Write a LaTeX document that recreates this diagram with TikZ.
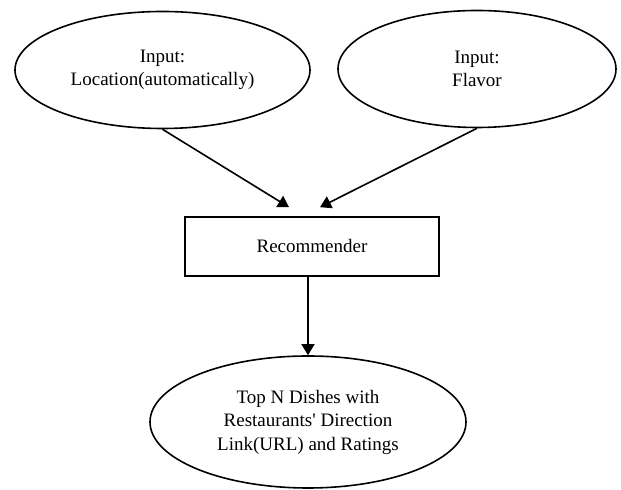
\documentclass[tikz,border=0pt]{standalone}
\usepackage{fontspec}
\setmainfont{Liberation Serif}
\usetikzlibrary{shapes.geometric}
\usetikzlibrary{arrows.meta}
\newcommand{\locwd}{147.5pt}
\newcommand{\flavwd}{139pt}
\newcommand{\inpht}{58.5pt}
\newcommand{\recwd}{127pt}
\newcommand{\recht}{29.5pt}
\newcommand{\reswd}{158pt}
\newcommand{\resht}{66pt}
\newcommand{\tipgap}{-9}

\begin{document}
\begin{tikzpicture}[x=0.5pt,y=-0.5pt,
    font=\fontsize{9.5}{11.75}\selectfont,
    line width=0.8pt,
    oval/.style={draw,ellipse,inner sep=0pt,align=center},
    box/.style={draw,rectangle,inner sep=0pt,align=center},
    flow/.style={-{Triangle[length=5.5pt,width=6.5pt]}}]
    \useasboundingbox (0,0) rectangle (621,490);
    % inputs
    \node[oval,minimum width=\locwd,minimum height=\inpht] (loc)
      at (162.5,70) {Input:\\Location(automatically)};
    \node[oval,minimum width=\flavwd,minimum height=\inpht] (flav)
      at (477,69) {Input:\\Flavor};
    % recommender
    \node[box,minimum width=\recwd,minimum height=\recht] (rec)
      at (312,246.5) {Recommender};
    % output
    \node[oval,minimum width=\reswd,minimum height=\resht] (res)
      at (308,422) {Top N Dishes with\\Restaurants\textquotesingle{} Direction\\Link(URL) and Ratings};
    \begin{scope}
      \coordinate (locend) at ([shift={(-23,\tipgap)}]rec.north);
      \coordinate (flavend) at ([shift={(8,\tipgap)}]rec.north);
      \draw[flow] (loc.south) -- (locend);
      \draw[flow] (flav.south) -- (flavend);
      \draw[flow] (rec.south -| res.north) -- (res.north);
    \end{scope}
  \end{tikzpicture}
\end{document}
